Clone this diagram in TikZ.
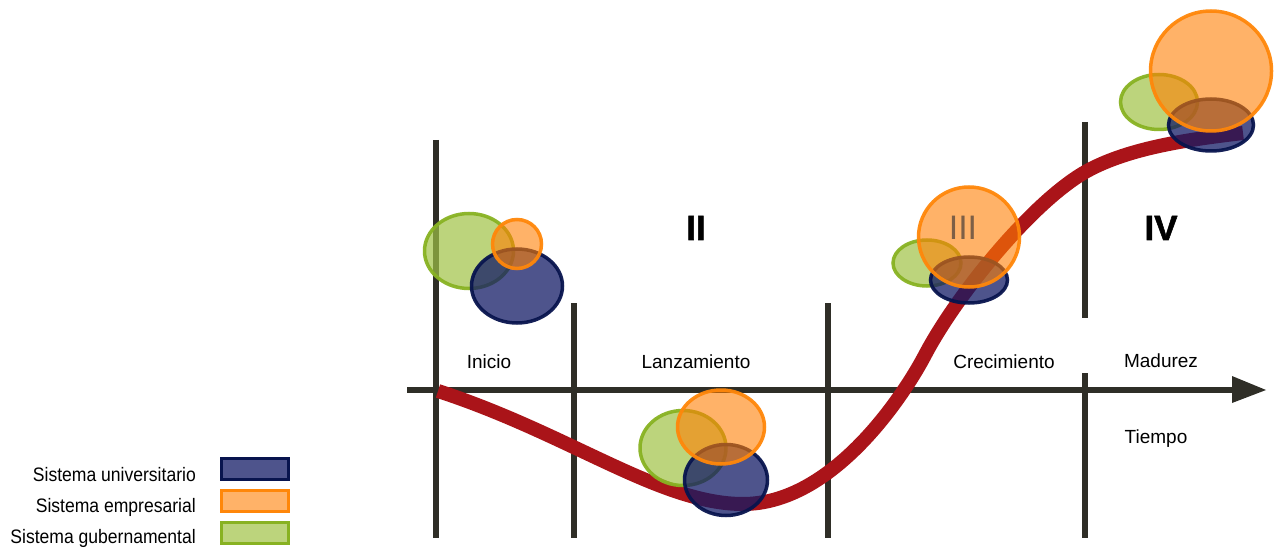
\documentclass[tikz,border=0pt]{standalone}
\usepackage{fontspec}
\setmainfont{Liberation Sans}
\newfontfamily\narrowfont[FakeStretch=0.9]{Liberation Sans}
\newfontfamily\heavyfont[FakeBold=1.6]{Liberation Sans Bold}
\usetikzlibrary{shapes.geometric}
\definecolor{axisc}{RGB}{47,46,39}
\definecolor{curvec}{RGB}{170,20,25}
\definecolor{unifill}{RGB}{19,27,102}
\definecolor{unidraw}{RGB}{8,20,78}
\definecolor{empfill}{RGB}{255,127,3}
\definecolor{empdraw}{RGB}{255,135,10}
\definecolor{govfill}{RGB}{159,194,69}
\definecolor{govdraw}{RGB}{136,178,34}
\definecolor{brownnum}{RGB}{125,95,70}
\tikzset{
  axisline/.style={draw=axisc, line width=6.5pt},
  blob/.style={ellipse, inner sep=0pt, line width=3.5pt},
  uni/.style={blob, fill=unifill, fill opacity=0.75, draw=unidraw, draw opacity=0.95},
  emp/.style={blob, fill=empfill, fill opacity=0.6, draw=empdraw, draw opacity=0.95},
  gov/.style={blob, fill=govfill, fill opacity=0.7, draw=govdraw, draw opacity=0.95},
  swatch/.style={rectangle, minimum width=67pt, minimum height=21pt, line width=3pt},
  lbl/.style={font=\fontsize{19}{21}\selectfont, inner sep=0pt, anchor=base},
  legtxt/.style={font=\narrowfont\fontsize{19.5}{21}\selectfont, inner sep=0pt, anchor=base east},
  numeral/.style={font=\heavyfont\fontsize{35}{37}\selectfont, inner sep=0pt, anchor=base},
}
\begin{document}
\begin{tikzpicture}[x=1pt,y=-1pt]
\useasboundingbox (0,0) rectangle (1285,548);
% phase dividers
\draw[axisline] (436,140) -- (436,538);
\draw[axisline] (574,303) -- (574,538);
\draw[axisline] (828,303) -- (828,538);
\draw[axisline] (1085,122) -- (1085,318);
\draw[axisline] (1085,373) -- (1085,538);
% time axis
\coordinate (axs) at (407,390);
\coordinate (axe) at (1235,390);
\draw[axisline] (axs) -- (axe);
\fill[axisc] (1232,376) -- (1266,390) -- (1232,403) -- cycle;
% trajectory
\coordinate (c0) at (438,391);
\coordinate (c1) at (743,504);
\coordinate (c2) at (925,355);
\coordinate (c3) at (1087,171);
\coordinate (c4) at (1243,133);
\draw[curvec, line width=14pt, line cap=butt]
  (c0) .. controls (570,434) and (660,504) .. (c1)
       .. controls (833,504) and (904,395) .. (c2)
       .. controls (957.6,293) and (1034.4,199.9) .. (c3)
       .. controls (1130.8,146.9) and (1193.4,139) .. (c4);
% Inicio
\node[gov, minimum width=89pt, minimum height=75pt] (g1) at (469,251) {};
\node[uni, minimum width=91pt, minimum height=74pt] (u1) at (517,286) {};
\node[emp, minimum width=49pt, minimum height=49pt] (e1) at (517,244) {};
% Lanzamiento
\node[gov, minimum width=86pt, minimum height=75pt] (g2) at (683,448) {};
\node[uni, minimum width=83pt, minimum height=71pt] (u2) at (726,480) {};
\node[emp, minimum width=87pt, minimum height=74pt] (e2) at (721,427) {};
% Crecimiento
\node[gov, minimum width=68pt, minimum height=46pt] (g3) at (927,263) {};
\node[uni, minimum width=77pt, minimum height=46pt] (u3) at (969,280) {};
\node[emp, minimum width=101pt, minimum height=100pt] (e3) at (969,237) {};
% Madurez
\node[gov, minimum width=77pt, minimum height=55pt] (g4) at (1159,102) {};
\node[uni, minimum width=85pt, minimum height=52pt] (u4) at (1211,125) {};
\node[emp, minimum width=121pt, minimum height=120pt] (e4) at (1211,71) {};
% numerals
\node[numeral] (n2) at (696,240) {II};
\node[font=\fontsize{34}{36}\selectfont, inner sep=0pt, anchor=base, text=brownnum] (n3) at (963,240) {III};
\node[numeral] (n4) at (1161,240) {IV};
% phase labels
\node[lbl] (l1) at (489,368) {Inicio};
\node[lbl] (l2) at (696,368) {Lanzamiento};
\node[lbl] (l3) at (1004,368) {Crecimiento};
\node[lbl] (l4) at (1161,367) {Madurez};
\node[lbl] (lt) at (1156,443) {Tiempo};
% legend
\node[legtxt] (t1) at (196,481) {Sistema universitario};
\node[legtxt] (t2) at (196,512) {Sistema empresarial};
\node[legtxt] (t3) at (196,543) {Sistema gubernamental};
\node[swatch, fill=unifill, fill opacity=0.75, draw=unidraw] (s1) at (255,469) {};
\node[swatch, fill=empfill, fill opacity=0.6, draw=empdraw] (s2) at (255,501) {};
\node[swatch, fill=govfill, fill opacity=0.7, draw=govdraw] (s3) at (255,533) {};
\end{tikzpicture}
\end{document}
